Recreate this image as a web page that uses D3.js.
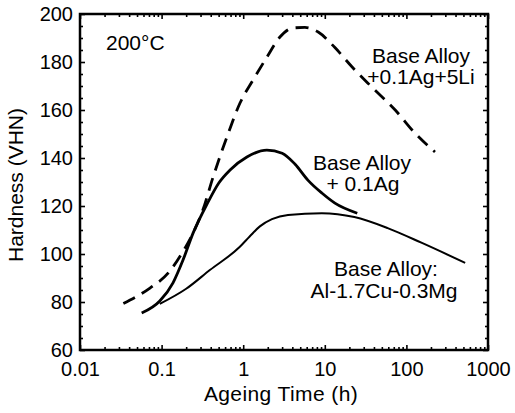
<!DOCTYPE html>
<html>
<head>
<meta charset="utf-8">
<script src="https://cdn.jsdelivr.net/npm/d3@7"></script>
<style>
  body { margin: 0; background: #fff; }
  text { font-family: "Liberation Sans", Arial, sans-serif; fill: #000; }
</style>
</head>
<body>
<div id="chart"></div>
<script>
// data (time in h, hardness in VHN)
const liTime = [0.034, 0.072, 0.12, 0.178, 0.243, 0.32, 0.427, 0.632, 0.914, 1.32, 1.95, 2.82, 4.07, 5.7, 8.3, 13.3, 21.5, 37.6, 72.9, 127, 224]
const liHard = [79.4, 85.8, 92, 100.4, 108.7, 118.3, 132, 148.8, 162.9, 172.5, 182, 190.4, 194.2, 194.4, 192.5, 186, 178, 169.6, 160, 150.4, 142.5]

const agTime = [0.057, 0.095, 0.138, 0.183, 0.243, 0.363, 0.5, 0.69, 1.11, 1.95, 3.0, 4.3, 6.2, 9.2, 13.3, 25]
const agHard = [75.4, 80.4, 88, 97.5, 108.7, 121, 129.5, 135, 140.4, 143.3, 142, 137.5, 130.8, 125.4, 121.2, 117]

const baseTime = [0.095, 0.2, 0.39, 0.91, 1.2, 1.6, 2.25, 3.54, 9.2, 23, 59, 155, 525]
const baseHard = [79.2, 85.5, 93.3, 103, 107.3, 111.5, 114.5, 116.3, 117, 115.4, 110.8, 104.6, 96.3]

const xTicks = [0.01, 0.1, 1, 10, 100, 1000]
const xTickLabels = ["0.01", "0.1", "1", "10", "100", "1000"]
const yTicks = [60, 80, 100, 120, 140, 160, 180, 200]

const width = 515
const height = 413
const margin = ({ top: 14, right: 27, bottom: 63, left: 80 })

const svg = d3.select("#chart")
  .append("svg")
  .attr("width", width)
  .attr("height", height)

// SCALES
const xScale = d3.scaleLog()
  .domain([0.01, 1000])
  .range([margin.left, width - margin.right])

const yScale = d3.scaleLinear()
  .domain([60, 200])
  .range([height - margin.bottom, margin.top])

const xMinor = xScale.ticks().filter(d => !xTicks.includes(d))
const yMinor = d3.range(60, 201, 5).filter(d => d % 20 !== 0)

// axes: major + minor ticks pointing inward
function drawAxes(g, axisFn, scale, pos, major, minor, labels) {
  const a1 = g.append("g").attr("transform", pos)
    .call(axisFn(scale).tickValues(minor).tickSize(-3).tickFormat(""))
  const a2 = g.append("g").attr("transform", pos)
    .call(axisFn(scale).tickValues(major).tickSize(-5).tickPadding(8)
      .tickFormat(labels ? labels : ""))
  ;[a1, a2].forEach(a => {
    a.select(".domain").remove()
    a.selectAll(".tick line").attr("stroke", "#000").attr("stroke-width", 1.6)
  })
  a2.selectAll("text").style("font-size", "20px")
  return a2
}

const axes = svg.append("g")
drawAxes(axes, d3.axisBottom, xScale, `translate(0,${height - margin.bottom})`, xTicks, xMinor, d => xTickLabels[xTicks.indexOf(d)])
  .selectAll("text").attr("dy", "0.71em").attr("y", 12)
drawAxes(axes, d3.axisTop, xScale, `translate(0,${margin.top})`, xTicks, xMinor, null)
drawAxes(axes, d3.axisLeft, yScale, `translate(${margin.left},0)`, yTicks, yMinor, d => d)
  .selectAll("text").attr("x", -7).attr("dy", "0.3em")
drawAxes(axes, d3.axisRight, yScale, `translate(${width - margin.right},0)`, yTicks, yMinor, null)

// frame
svg.append("rect")
  .attr("x", margin.left)
  .attr("y", margin.top)
  .attr("width", width - margin.left - margin.right)
  .attr("height", height - margin.top - margin.bottom)
  .attr("fill", "none")
  .attr("stroke", "#000")
  .attr("stroke-width", 2.5)

// curves
const line = d3.line()
  .x(d => xScale(d[0]))
  .y(d => yScale(d[1]))
  .curve(d3.curveMonotoneX)

svg.append("path")
  .attr("d", line(d3.zip(liTime, liHard)))
  .attr("fill", "none")
  .attr("stroke", "#000")
  .attr("stroke-width", 2.8)
  .attr("stroke-dasharray", "13,8")

svg.append("path")
  .attr("d", line(d3.zip(agTime, agHard)))
  .attr("fill", "none")
  .attr("stroke", "#000")
  .attr("stroke-width", 2.8)

svg.append("path")
  .attr("d", line(d3.zip(baseTime, baseHard)))
  .attr("fill", "none")
  .attr("stroke", "#000")
  .attr("stroke-width", 2)

// labels
const notes = [
  { t: "200°C", x: 106, y: 50, a: "start" },
  { t: "Base Alloy", x: 421, y: 63, a: "middle" },
  { t: "+0.1Ag+5Li", x: 421, y: 84, a: "middle" },
  { t: "Base Alloy", x: 362, y: 170, a: "middle" },
  { t: "+ 0.1Ag", x: 363, y: 191, a: "middle" },
  { t: "Base Alloy:", x: 386, y: 276, a: "middle" },
  { t: "Al-1.7Cu-0.3Mg", x: 384, y: 298, a: "middle" }
]
svg.selectAll("text.note")
  .data(notes)
  .join("text")
  .attr("class", "note")
  .attr("x", d => d.x)
  .attr("y", d => d.y)
  .attr("text-anchor", d => d.a)
  .style("font-size", "21px")
  .text(d => d.t)

svg.append("text")
  .attr("x", 281)
  .attr("y", 401)
  .attr("text-anchor", "middle")
  .style("font-size", "21px")
  .style("letter-spacing", "0.4px")
  .text("Ageing Time (h)")

svg.append("text")
  .attr("transform", "translate(23,185) rotate(-90)")
  .attr("text-anchor", "middle")
  .style("font-size", "21px")
  .text("Hardness (VHN)")
</script>
</body>
</html>
